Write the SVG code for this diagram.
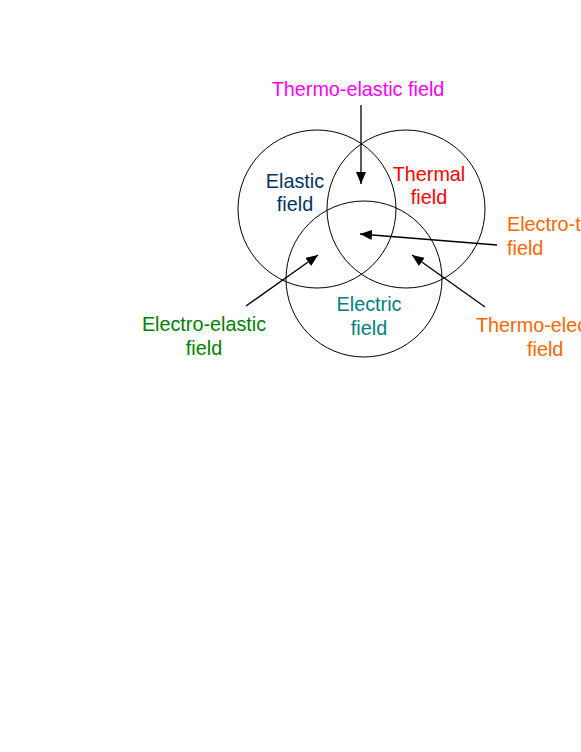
<svg xmlns="http://www.w3.org/2000/svg" width="581" height="752" viewBox="0 0 581 752">
<style>
text{font-family:"Liberation Sans",Arial,sans-serif;font-size:19.8px}
.c{fill:none;stroke:#000;stroke-width:1}
.a{fill:none;stroke:#000;stroke-width:1.3;marker-end:url(#ah)}
</style>
<defs>
<marker id="ah" viewBox="0 0 12 10" refX="12" refY="5" markerWidth="12" markerHeight="10" markerUnits="userSpaceOnUse" orient="auto">
<path d="M0,0 L12,5 L0,10 z" fill="#000"/>
</marker>
</defs>
<rect width="581" height="752" fill="#fff"/>
<g id="elastic"><circle class="c" cx="317" cy="209" r="79"/>
<text x="295" y="188" text-anchor="middle" fill="#003366">Elastic</text>
<text x="295" y="211" text-anchor="middle" fill="#003366">field</text></g>
<g id="thermal"><circle class="c" cx="406" cy="209" r="79"/>
<text x="429" y="181" text-anchor="middle" fill="#FF0000">Thermal</text>
<text x="429" y="204" text-anchor="middle" fill="#FF0000">field</text></g>
<g id="electric"><circle class="c" cx="364" cy="279" r="78"/>
<text x="369" y="311" text-anchor="middle" fill="#008080">Electric</text>
<text x="369" y="335" text-anchor="middle" fill="#008080">field</text></g>
<g id="thermo-elastic"><text x="358" y="96" text-anchor="middle" fill="#FF00FF">Thermo-elastic field</text></g>
<g id="electro-elastic"><text x="204" y="331" text-anchor="middle" fill="#008000">Electro-elastic</text>
<text x="204" y="355" text-anchor="middle" fill="#008000">field</text></g>
<g id="electro-thermo-elastic"><text x="507" y="231" fill="#FF6600">Electro-thermo-elastic</text>
<text x="507" y="255" fill="#FF6600">field</text></g>
<g id="thermo-electric"><text x="476" y="332" fill="#FF6600">Thermo-electric</text>
<text x="527" y="356" fill="#FF6600">field</text></g>
<g id="connectors">
<line class="a" x1="361" y1="105" x2="361" y2="184"/>
<line class="a" x1="246" y1="306" x2="318" y2="255"/>
<line class="a" x1="497" y1="245" x2="360" y2="234"/>
<line class="a" x1="485" y1="307" x2="412" y2="255"/>
</g>
</svg>
